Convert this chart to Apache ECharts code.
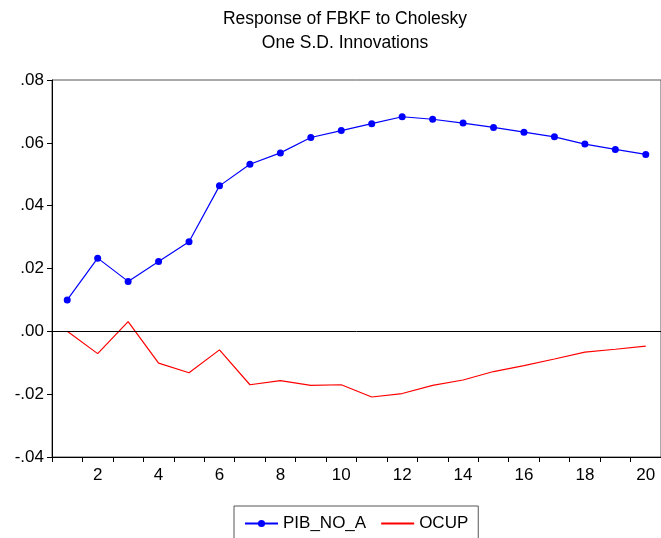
<!DOCTYPE html>
<html>
<head>
<meta charset="utf-8">
<script src="https://cdn.jsdelivr.net/npm/echarts@6/dist/echarts.min.js"></script>
<style>
  html, body { margin: 0; padding: 0; background: #fff; }
  #chart { width: 661px; height: 538px; }
</style>
</head>
<body>
<div id="chart"></div>
<script>
// periods 1..20
var periods = ['1','2','3','4','5','6','7','8','9','10','11','12','13','14','15','16','17','18','19','20'];
// response to PIB_NO_A shock
var pibNoA = [0.0100, 0.0233, 0.0159, 0.0222, 0.0285, 0.0463, 0.0532, 0.0568, 0.0617, 0.0639,
              0.0661, 0.0683, 0.0675, 0.0663, 0.0649, 0.0634, 0.0619, 0.0596, 0.0579, 0.0563];
// response to OCUP shock
var ocup = [0.0000, -0.0071, 0.0031, -0.0101, -0.0132, -0.0059, -0.0170, -0.0157, -0.0172, -0.0170,
            -0.0209, -0.0198, -0.0172, -0.0155, -0.0128, -0.0109, -0.0088, -0.0066, -0.0057, -0.0047];
var yTicks = [-0.04, 0.08, 0.02];

var font = 'Arial, "Liberation Sans", sans-serif';

function fmtY(v) {
  var s = Math.abs(v).toFixed(2).replace(/^0/, '');
  return (v < -1e-9 ? '-' : '') + s;
}

var chart = echarts.init(document.getElementById('chart'));
var option = {
  animation: false,
  backgroundColor: '#fff',
  title: {
    text: 'Response of FBKF to Cholesky\nOne S.D. Innovations',
    left: 340,
    top: 2,
    textAlign: 'center',
    textStyle: { fontFamily: font, fontSize: 17.5, fontWeight: 'normal', color: '#000', lineHeight: 24 }
  },
  grid: {
    left: 52, top: 80, width: 610, height: 377,
    show: true, borderColor: '#555', borderWidth: 1, backgroundColor: '#fff'
  },
  legend: {
    bottom: -3,
    left: 234,
    padding: [9, 10, 9, 10],
    itemWidth: 33,
    itemHeight: 9,
    itemGap: 14,
    borderColor: '#555',
    borderWidth: 1,
    textStyle: { fontFamily: font, fontSize: 17, color: '#000' },
    data: [
      { name: 'PIB_NO_A' },
      { name: 'OCUP', itemStyle: { opacity: 0 } }
    ]
  },
  xAxis: {
    type: 'category',
    data: periods,
    boundaryGap: true,
    axisLine: { onZero: false, lineStyle: { color: '#000', width: 1 } },
    axisTick: { show: true, length: 5, interval: 0, lineStyle: { color: '#000' } },
    axisLabel: {
      interval: function (i) { return i % 2 === 1; },
      margin: 10,
      fontFamily: font, fontSize: 17, color: '#000'
    },
    splitLine: { show: false }
  },
  yAxis: {
    type: 'value',
    min: yTicks[0], max: yTicks[1], interval: yTicks[2],
    axisLine: { show: true, lineStyle: { color: '#000', width: 1 } },
    axisTick: { show: true, length: 5, lineStyle: { color: '#000' } },
    axisLabel: { formatter: fmtY, margin: 8, fontFamily: font, fontSize: 17, color: '#000' },
    splitLine: { show: false }
  },
  series: [
    {
      name: 'PIB_NO_A',
      type: 'line',
      data: pibNoA,
      symbol: 'circle',
      symbolSize: 7,
      showSymbol: true,
      itemStyle: { color: '#0000ff' },
      lineStyle: { color: '#0000ff', width: 1.2 },
      markLine: {
        silent: true,
        symbol: 'none',
        label: { show: false },
        lineStyle: { color: '#000', width: 1, type: 'solid' },
        data: [{ yAxis: 0 }]
      }
    },
    {
      name: 'OCUP',
      type: 'line',
      data: ocup,
      symbol: 'none',
      itemStyle: { color: '#ff0000' },
      lineStyle: { color: '#ff0000', width: 1.2 }
    }
  ]
};
chart.setOption(option);
</script>
</body>
</html>
